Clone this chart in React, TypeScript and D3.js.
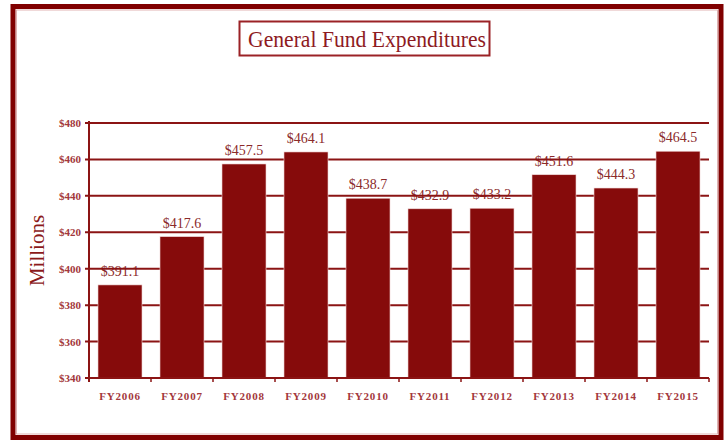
import React from "react";
import * as d3 from "d3";

const categories = ["FY2006", "FY2007", "FY2008", "FY2009", "FY2010", "FY2011", "FY2012", "FY2013", "FY2014", "FY2015"];
const values = [391.1, 417.6, 457.5, 464.1, 438.7, 432.9, 433.2, 451.6, 444.3, 464.5];
const yTicks = [340, 360, 380, 400, 420, 440, 460, 480];

const W = 728;
const H = 440;
const plot = { left: 89, right: 709, top: 123, bottom: 378 };
const dark = "#800000";
const barColor = "#860B0B";
const lightText = "#A3383C";
const serif = "'Liberation Serif', 'Times New Roman', serif";

export default function App() {
  const x = d3.scaleBand<string>().domain(categories).range([plot.left, plot.right]).paddingInner(0.29).paddingOuter(0.145);
  const xStep = d3.scaleBand<string>().domain(categories).range([plot.left, plot.right]);
  const y = d3.scaleLinear().domain([340, 480]).range([plot.bottom, plot.top]);

  return (
    <svg width={W} height={H} style={{ position: "absolute", left: 0, top: 0, background: "#fff" }}>
      <rect x={13} y={6.5} width={708} height={431} fill="#fff" stroke={dark} strokeWidth={5} />
      <rect x={16.5} y={10} width={701} height={424} fill="none" stroke="#D9A0A0" strokeWidth={0.8} />

      <rect x={239.5} y={21.5} width={250} height={34} fill="#fff" stroke="#9B2226" strokeWidth={2} />
      <text x={248} y={47} fontFamily={serif} fontSize={23} fill="#8E1B1F" textLength={238} lengthAdjust="spacingAndGlyphs">
        General Fund Expenditures
      </text>

      <text transform={`translate(44,${(plot.top + plot.bottom) / 2}) rotate(-90)`} textAnchor="middle" fontFamily={serif} fontSize={21} fill="#8B1A1A">
        Millions
      </text>

      {values.map((v, i) => (
        <text key={"v" + i} x={x(categories[i])! + x.bandwidth() / 2} y={y(v) - 9} textAnchor="middle" fontFamily={serif} fontSize={14} fill="#8B2A2A">
          {"$" + v.toFixed(1)}
        </text>
      ))}

      {yTicks.map((t) => (
        <g key={"g" + t}>
          <line x1={plot.left - 4} x2={plot.right} y1={y(t)} y2={y(t)} stroke="#8B1414" strokeWidth={2} />
          <text x={81} y={y(t) + 4} textAnchor="end" fontFamily={serif} fontSize={11} fontWeight="bold" fill={lightText}>
            {"$" + t}
          </text>
        </g>
      ))}

      {values.map((v, i) => (
        <rect key={"b" + i} x={x(categories[i])!} y={y(v)} width={x.bandwidth()} height={plot.bottom - y(v)} fill={barColor} stroke="#F2D8D8" strokeWidth={0.6} />
      ))}

      <line x1={plot.left} x2={plot.left} y1={plot.top - 2} y2={plot.bottom + 4} stroke="#8B1414" strokeWidth={2} />
      <line x1={plot.left} x2={plot.right} y1={plot.bottom} y2={plot.bottom} stroke="#8B1414" strokeWidth={2} />
      {categories.map((c, i) => (
        <line key={"t" + i} x1={xStep(c)! + xStep.step()} x2={xStep(c)! + xStep.step()} y1={plot.bottom} y2={plot.bottom + 4} stroke="#8B1414" strokeWidth={1.5} />
      ))}

      {categories.map((c) => (
        <text key={"c" + c} x={x(c)! + x.bandwidth() / 2} y={400} textAnchor="middle" fontFamily={serif} fontSize={11} fontWeight="bold" letterSpacing={0.8} fill={lightText}>
          {c}
        </text>
      ))}
    </svg>
  );
}
